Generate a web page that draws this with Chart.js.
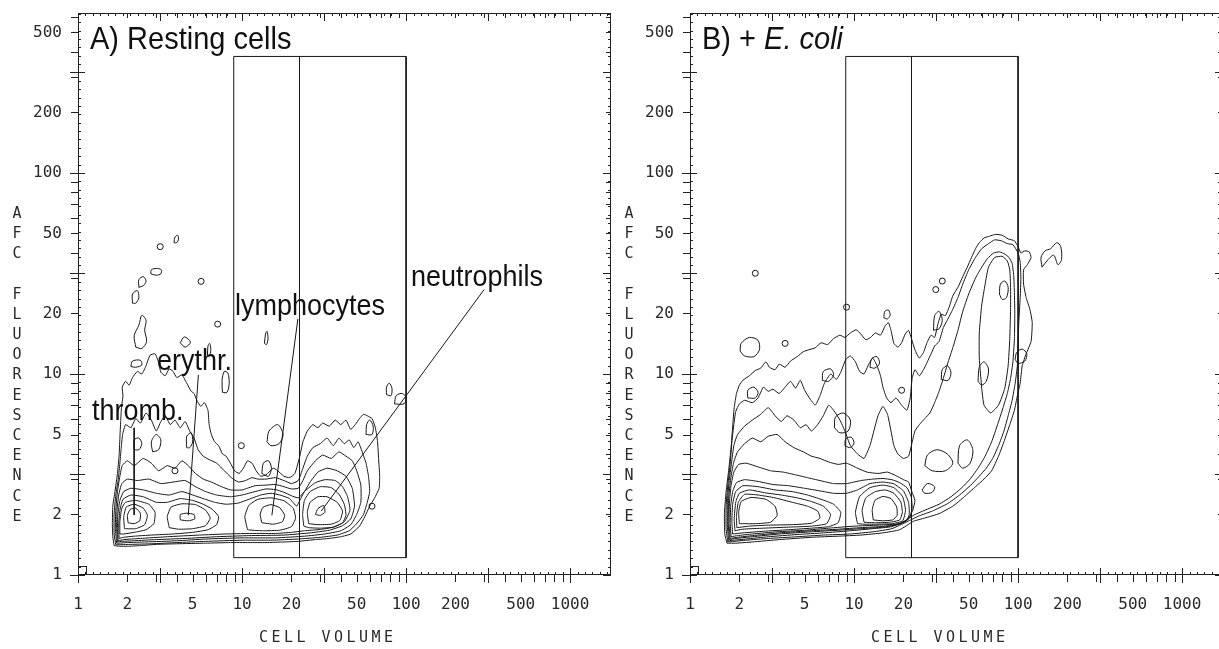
<!DOCTYPE html>
<html>
<head>
<meta charset="utf-8">
<script src="https://cdn.jsdelivr.net/npm/chart.js@4.4.1/dist/chart.umd.min.js"></script>
<style>
html, body { margin: 0; padding: 0; background: #fff; overflow: hidden; }
#wrap { position: relative; width: 1219px; height: 649px; overflow: hidden; background: #fff; }
canvas { position: absolute; top: 0; }
</style>
</head>
<body>
<div id="wrap">
  <canvas id="chartA" width="616" height="649" style="left:0"></canvas>
  <canvas id="chartB" width="616" height="649" style="left:612px"></canvas>
</div>
<script>
// axis ranges and tick labels (both panels share them)
var xMin = 1, xMax = 1775, yMin = 1, yMax = 625;
var xTickLabels = [1, 2, 5, 10, 20, 50, 100, 200, 500, 1000];
var yTickLabels = [1, 2, 5, 10, 20, 50, 100, 200, 500];

// gate: three cell volume borders, lower / upper fluorescence
var gateVolumes = [8.9, 22.4, 100];
var gateFluor = [1.22, 380];

// ---- panel A, resting cells: contour lines as [volume, fluorescence] ----
var aOuter = [[1.66,1.40],[1.63,1.55],[1.62,1.8],[1.63,2.2],[1.68,2.6],[1.74,3.2],[1.78,3.9],[1.80,4.8],[1.82,5.8],[1.84,6.8],[1.88,7.8],[1.86,8.6],[1.95,9.2],[2.05,8.8],[2.15,9.6],[2.3,10.3],[2.45,10.0],[2.6,11.0],[2.75,12.4],[2.95,12.6],[3.1,11.4],[3.2,10.2],[3.4,9.8],[3.6,10.6],[3.8,10.3],[4.0,9.6],[4.3,9.9],[4.6,9.0],[4.9,8.2],[5.1,8.0],[5.3,7.4],[5.6,6.9],[5.9,7.2],[6.2,6.6],[6.3,5.6],[6.5,5.0],[6.8,4.6],[7.2,4.4],[7.6,4.0],[8.0,3.9],[8.5,3.6],[9.0,3.3],[9.6,3.2],[10.2,3.4],[10.8,3.7],[11.5,3.6],[12.2,3.3],[13,3.1],[14,3.15],[15.5,3.4],[16.5,3.3],[18,3.1],[19.5,3.05],[21,3.2],[22.5,3.9],[23.5,4.6],[25,5.2],[27,5.6],[29,5.4],[31,5.7],[34,5.5],[37,5.9],[40,5.6],[43,5.9],[46,5.3],[49,5.6],[52,6.0],[55,6.3],[58,6.2],[62,6.0],[65,5.4],[67,4.6],[68,3.8],[69,3.1],[68.5,2.7],[64,2.4],[60,2.2],[56,1.95],[52,1.75],[46,1.6],[40,1.55],[34,1.52],[28,1.5],[22,1.47],[18,1.46],[14,1.45],[11,1.45],[8.5,1.45],[6,1.44],[4,1.43],[3,1.42],[2.4,1.40],[2.0,1.39],[1.8,1.39],[1.66,1.40]];
var aLevel1 = [[1.7,1.415],[1.66,1.6],[1.66,2.0],[1.70,2.5],[1.76,3.0],[1.80,3.6],[1.83,4.2],[1.87,5.0],[1.95,5.6],[2.1,5.4],[2.25,6.0],[2.4,5.7],[2.6,6.4],[2.8,5.9],[3.0,5.2],[3.2,5.8],[3.4,6.2],[3.65,5.6],[3.9,5.9],[4.2,5.4],[4.5,5.8],[4.8,5.2],[5.1,4.8],[5.4,4.2],[5.8,3.9],[6.3,3.75],[7.0,3.6],[7.8,3.3],[8.6,3.05],[9.5,2.9],[10.5,2.95],[11.5,3.05],[12.5,3.0],[14,3.0],[16,3.05],[18,2.95],[20,2.85],[22,2.95],[23.5,3.4],[25,3.9],[27,4.3],[30,4.5],[33,4.8],[36,4.4],[39,4.8],[42,4.5],[45,4.7],[48,4.3],[51,4.6],[54,4.1],[57,3.6],[59,3.1],[60,2.6],[58,2.3],[55,2.0],[50,1.8],[45,1.66],[38,1.58],[30,1.54],[22,1.51],[15,1.49],[10,1.49],[6,1.47],[4,1.45],[2.8,1.43],[2.1,1.42],[1.8,1.415],[1.7,1.415]];
var aLevel2 = [[1.72,1.44],[1.69,1.7],[1.70,2.1],[1.74,2.6],[1.8,3.1],[1.86,3.5],[2.0,3.7],[2.2,3.5],[2.5,3.8],[2.8,3.6],[3.1,3.3],[3.5,3.5],[3.9,3.4],[4.3,3.7],[4.7,3.5],[5.2,3.2],[5.8,3.0],[6.5,2.9],[7.5,2.75],[8.5,2.65],[10,2.65],[12,2.78],[14,2.8],[16,2.82],[18,2.75],[20,2.68],[22,2.7],[23.5,2.95],[25,3.3],[28,3.7],[31,3.95],[35,3.8],[39,4.1],[43,3.9],[47,3.7],[50,3.3],[53,2.8],[53,2.3],[50,2.0],[46,1.78],[40,1.66],[32,1.6],[24,1.56],[16,1.53],[10,1.53],[6,1.51],[4,1.48],[2.6,1.46],[2.0,1.45],[1.78,1.44],[1.72,1.44]];
var aLevel3 = [[1.74,1.46],[1.72,1.7],[1.73,2.1],[1.77,2.5],[1.85,2.85],[2.0,3.0],[2.3,2.95],[2.7,3.0],[3.2,2.85],[3.8,2.9],[4.5,2.95],[5.2,2.75],[6.0,2.6],[7.0,2.5],[8.5,2.45],[10,2.5],[12,2.6],[14,2.68],[16,2.66],[18,2.58],[20,2.48],[22,2.42],[24,2.6],[26,2.9],[29,3.25],[33,3.4],[38,3.3],[43,3.1],[47,2.7],[48.5,2.2],[46,1.9],[41,1.76],[34,1.67],[26,1.62],[18,1.58],[11,1.57],[7,1.55],[4.5,1.52],[3,1.5],[2.2,1.48],[1.85,1.47],[1.74,1.46]];
var aLevel4 = [[1.76,1.48],[1.74,1.7],[1.75,2.0],[1.8,2.35],[1.9,2.6],[2.1,2.7],[2.5,2.65],[3.0,2.55],[3.6,2.5],[4.3,2.6],[5.0,2.5],[5.8,2.4],[6.8,2.3],[8,2.25],[9.5,2.28],[11,2.38],[13,2.5],[15,2.55],[17,2.5],[19.5,2.4],[21.5,2.2],[22.5,2.35],[24,2.6],[26,2.75],[28,2.88],[32,2.98],[37,2.95],[41,2.75],[44,2.45],[45.5,2.1],[42,1.84],[36,1.73],[30,1.685],[24,1.66],[20,1.63],[16,1.61],[12,1.61],[8,1.6],[5.5,1.58],[3.5,1.55],[2.4,1.52],[1.9,1.5],[1.76,1.48]];
var aThrombErythr = [[1.78,1.52],[1.77,1.75],[1.8,2.1],[1.88,2.38],[2.1,2.5],[2.5,2.45],[3.0,2.3],[3.5,2.3],[4.2,2.4],[5.0,2.35],[5.8,2.25],[6.6,2.12],[7.2,1.95],[7.0,1.78],[6.2,1.68],[5.0,1.63],[3.8,1.6],[2.8,1.58],[2.2,1.56],[1.9,1.54],[1.78,1.52]];
var aThromb1 = [[1.8,1.6],[1.8,1.85],[1.85,2.15],[1.95,2.3],[2.25,2.35],[2.7,2.25],[2.95,2.05],[2.9,1.8],[2.6,1.68],[2.2,1.63],[1.9,1.6],[1.8,1.6]];
var aThromb2 = [[1.92,1.7],[1.9,1.95],[1.97,2.18],[2.2,2.25],[2.5,2.15],[2.65,1.98],[2.55,1.78],[2.25,1.7],[1.92,1.7]];
var aThromb3 = [[2.02,1.82],[2.0,1.98],[2.08,2.12],[2.25,2.15],[2.4,2.03],[2.38,1.86],[2.2,1.8],[2.02,1.82]];
var aErythr1 = [[3.6,1.72],[3.5,1.95],[3.7,2.18],[4.3,2.26],[5.2,2.24],[6.0,2.1],[6.4,1.92],[6.0,1.76],[5.0,1.7],[4.1,1.69],[3.6,1.72]];
var aErythr2 = [[4.2,1.88],[4.2,2.0],[4.6,2.03],[5.1,2.0],[5.15,1.9],[4.7,1.86],[4.2,1.88]];
var aLymph1 = [[10.8,1.68],[10.4,1.95],[11.0,2.22],[12.5,2.38],[15,2.42],[18,2.34],[20.5,2.15],[21.2,1.92],[20,1.74],[17,1.67],[13.5,1.66],[11.5,1.67],[10.8,1.68]];
var aLymph2 = [[13.2,1.82],[12.9,2.0],[13.4,2.17],[15,2.24],[17,2.16],[18.2,1.98],[17.6,1.84],[15.5,1.79],[13.2,1.82]];
var aNeutro1 = [[23.8,1.75],[23.4,2.0],[24,2.35],[26,2.6],[30,2.75],[35,2.72],[39,2.52],[42,2.25],[43,1.98],[41,1.82],[36,1.73],[30,1.71],[25.5,1.72],[23.8,1.75]];
var aNeutro2 = [[25.5,1.8],[25,2.05],[26,2.3],[29,2.45],[33,2.45],[38,2.3],[41,2.08],[39.5,1.87],[35,1.79],[29,1.78],[25.5,1.8]];
var aNeutro3 = [[28,2.0],[29,2.14],[31.5,2.22],[32,2.05],[30,1.98],[28,2.0]];
var aIslands = [
  [[2.25,13.6],[2.2,15.5],[2.35,17.5],[2.45,19.6],[2.6,18.5],[2.55,16.5],[2.62,14.5],[2.45,13.4],[2.25,13.6]],
  [[2.15,22.5],[2.15,25],[2.3,26],[2.35,24],[2.25,22.5],[2.15,22.5]],
  [[2.35,27],[2.35,29.5],[2.5,30.5],[2.6,29],[2.5,27.5],[2.35,27]],
  [[2.78,31.5],[2.8,33],[3.0,33.5],[3.22,33],[3.2,31.5],[3.0,31],[2.78,31.5]],
  [[3.85,45],[3.9,48],[4.05,49],[4.1,47],[4.0,45],[3.85,45]],
  [[4.2,14.3],[4.45,15.3],[4.85,14.4],[4.5,13.6],[4.2,14.3]],
  [[6.15,12.3],[6.2,13.8],[6.35,14.2],[6.45,13.2],[6.3,12.2],[6.15,12.3]],
  [[13.7,14.2],[13.9,15.8],[14.2,16.3],[14.4,15],[14.1,14],[13.7,14.2]],
  [[7.6,8.1],[7.55,9.3],[7.8,10.3],[8.2,10.1],[8.35,9.0],[8.1,8.1],[7.6,8.1]],
  [[76,7.9],[76,8.6],[79,9.0],[82,8.5],[81,7.8],[76,7.9]],
  [[85,7.1],[87,7.8],[95,8.0],[100,7.6],[97,7.1],[85,7.1]],
  [[14.2,4.6],[14.6,5.2],[16.5,5.6],[17.8,5.0],[16.8,4.5],[15,4.4],[14.2,4.6]],
  [[13.2,3.2],[13.5,3.6],[14.5,3.7],[15.1,3.4],[14.5,3.1],[13.2,3.2]],
  [[2.1,10.9],[2.15,11.6],[2.4,11.7],[2.45,11.1],[2.25,10.8],[2.1,10.9]],
  [[2.2,4.2],[2.2,4.7],[2.35,4.8],[2.45,4.5],[2.35,4.2],[2.2,4.2]],
  [[2.85,4.1],[2.8,4.6],[3.0,5.0],[3.2,4.7],[3.1,4.2],[2.85,4.1]],
  [[4.6,4.3],[4.6,4.9],[4.9,5.1],[5.0,4.6],[4.8,4.3],[4.6,4.3]],
  [[57,5.0],[57.5,5.6],[60,5.9],[63,5.5],[62,5.0],[57,5.0]]
];
var aDots = [[3.17,43],[5.63,28.9],[7.1,17.7],[9.9,4.4],[3.9,3.3],[62,2.2]];
// leader lines from the labels to the population peaks
var aLeaders = [
  [[2.2,5.4],[2.2,1.99]],
  [[5.42,9.9],[4.7,1.98]],
  [[21.9,18.8],[15.2,1.98]],
  [[299,26.3],[30.4,2.08]]
];

// ---- panel B, + E. coli ----
var bOuter = [[1.68,1.44],[1.63,1.6],[1.62,2.0],[1.66,2.6],[1.72,3.3],[1.78,4.3],[1.82,5.5],[1.86,6.8],[1.92,8.0],[2.0,8.8],[2.1,9.3],[2.3,9.8],[2.5,10.4],[2.7,10.7],[2.9,11.5],[3.05,10.8],[3.3,10.5],[3.5,11.2],[3.8,10.8],[4.1,11.6],[4.5,12.2],[4.9,12.9],[5.3,13.2],[5.8,13.5],[6.3,14.3],[6.9,14.0],[7.5,15.0],[8.2,15.6],[8.8,15.2],[9.5,16.0],[10.3,16.6],[11,15.8],[11.8,14.8],[12.6,15.2],[13.5,16.0],[14.5,15.6],[15.5,17.4],[16.2,18.0],[16.8,16.5],[17.5,14.2],[18.5,13.6],[19.5,14.3],[20.5,15.8],[21.5,16.5],[22.5,14.8],[23.5,13.2],[25,12.0],[26.5,12.8],[28,14.5],[29.5,15.6],[31,15.2],[32.5,17.8],[34,19.8],[36,19.5],[38,21.5],[40,24.5],[43,27],[46,30.5],[49,34],[52,38],[55,42],[58,45],[62,47.5],[67,48.5],[73,49.5],[80,49],[87,47],[95,46],[100,43],[104,40],[110,41],[117,40.5],[120,38],[114,35],[108,33],[108,28],[112,24],[118,21],[122,18],[120,14.5],[112,12.6],[106,11],[103,9],[99,7.8],[95,6.6],[89,5.6],[82,4.6],[76,3.9],[69,3.3],[62,3.0],[55,2.75],[47,2.45],[40,2.2],[33,2.02],[27,1.92],[23,1.85],[19,1.68],[15,1.62],[11,1.58],[8,1.56],[5.5,1.54],[3.5,1.5],[2.4,1.46],[1.9,1.44],[1.68,1.44]];
var bLevel1 = [[1.7,1.46],[1.66,1.7],[1.66,2.2],[1.7,2.8],[1.76,3.6],[1.8,4.6],[1.85,5.6],[1.9,6.5],[2.0,7.1],[2.15,7.4],[2.4,7.2],[2.6,7.6],[2.8,8.6],[3.0,8.2],[3.2,8.4],[3.5,8.0],[3.8,8.6],[4.1,9.2],[4.4,8.5],[4.7,9.3],[5.0,8.3],[5.4,7.5],[5.8,7.0],[6.2,7.8],[6.6,9.0],[7.2,10.0],[7.8,9.4],[8.3,10.2],[8.9,11.8],[9.5,12.3],[10.2,11.5],[10.8,10.3],[11.5,10.0],[12.3,11.2],[13,12.0],[13.8,11.0],[14.5,9.8],[15,8.6],[15.8,7.6],[16.8,7.2],[18,7.6],[19.5,7.0],[21,6.6],[22,7.6],[22.6,9.5],[23.5,10.5],[25,9.8],[26.5,10.5],[28,11.5],[29.5,12.6],[31,13.8],[33,14.5],[35,17],[37,18.5],[40,21],[43,24],[46,28],[50,33],[55,38],[60,42],[66,44.5],[72,46.5],[79,46],[86,44.5],[93,44],[100,40],[103,36],[104,30],[103,24],[101,18],[100,14],[99,11],[96,9],[92,7.4],[87,6.2],[82,5.2],[76,4.4],[70,3.8],[64,3.4],[58,3.1],[51,2.78],[44,2.5],[37,2.26],[30,2.08],[25,1.97],[21,1.84],[17,1.7],[13,1.64],[9.5,1.6],[6.5,1.58],[4.5,1.55],[3,1.52],[2.2,1.49],[1.85,1.47],[1.7,1.46]];
var bLevel2 = [[1.72,1.48],[1.69,1.75],[1.69,2.3],[1.73,2.9],[1.79,3.6],[1.85,4.4],[1.95,5.0],[2.15,5.5],[2.4,5.9],[2.7,6.3],[3.0,6.8],[3.3,6.2],[3.6,5.8],[3.9,6.2],[4.3,5.9],[4.7,5.4],[5.1,5.6],[5.5,5.2],[6.0,5.6],[6.5,6.2],[7.0,7.0],[7.5,6.6],[8.2,5.9],[8.8,5.2],[9.5,4.4],[10.5,4.0],[11.5,3.8],[12.5,4.4],[13.2,5.2],[14,6.2],[15,6.9],[16,6.3],[16.8,5.2],[17.5,4.4],[18.5,4.0],[20,3.8],[21.5,3.9],[22.5,4.5],[23.5,5.2],[25,5.6],[27,6.0],[29,6.4],[31,7.2],[33,8.2],[35,9.5],[37.5,11.5],[40,13.5],[43,16.5],[46,20.5],[50,25],[55,30],[60,34],[65,37.5],[71,40],[77,40.5],[83,39.5],[88,38],[92,35.5],[94,31],[95,25],[95.5,20],[95,15],[93,11.5],[90,9.5],[86,8.0],[81,6.8],[75,5.6],[69,4.6],[63,3.9],[57,3.4],[51,3.0],[45,2.7],[39,2.45],[33,2.25],[27,2.1],[23,1.98],[20.5,1.86],[17,1.74],[13,1.7],[9.5,1.66],[6.5,1.62],[4.5,1.59],[3,1.55],[2.2,1.51],[1.85,1.49],[1.72,1.48]];
var bLevel3 = [[1.74,1.5],[1.71,1.8],[1.72,2.4],[1.77,3.0],[1.84,3.6],[1.95,4.1],[2.15,4.5],[2.4,4.8],[2.7,4.6],[3.0,4.9],[3.4,5.0],[3.8,4.6],[4.3,4.3],[4.9,4.1],[5.5,3.9],[6.2,3.8],[7,3.65],[8,3.55],[9,3.6],[10.5,3.4],[12,3.25],[14,3.2],[16,3.25],[18,3.12],[20,2.98],[21.5,2.9],[22.5,2.6],[23.5,2.35],[22.8,2.1],[21.5,1.92],[19,1.79],[15,1.73],[11,1.7],[8,1.67],[5.5,1.64],[3.5,1.6],[2.4,1.55],[1.9,1.52],[1.74,1.5]];
var bLevel4 = [[1.76,1.52],[1.73,1.8],[1.74,2.3],[1.78,2.8],[1.85,3.25],[1.98,3.55],[2.2,3.6],[2.6,3.45],[3.1,3.3],[3.7,3.25],[4.4,3.15],[5.2,3.05],[6.2,2.95],[7.5,2.85],[9,2.85],[11,2.95],[13,3.0],[15,3.02],[17,2.98],[19,2.88],[21,2.72],[22.3,2.45],[22.6,2.15],[21.8,1.92],[19.5,1.81],[15,1.745],[11,1.72],[8,1.69],[5.5,1.66],[3.5,1.62],[2.4,1.57],[1.95,1.54],[1.76,1.52]];
var bLevel5 = [[1.78,1.55],[1.76,1.8],[1.77,2.2],[1.82,2.6],[1.92,2.88],[2.15,2.98],[2.6,2.92],[3.2,2.82],[4,2.78],[5,2.7],[6.2,2.62],[7.5,2.55],[9,2.55],[10.5,2.65],[12.5,2.85],[15,2.9],[17.5,2.84],[20,2.62],[21.5,2.3],[21.7,2.0],[20.8,1.85],[18,1.79],[14,1.77],[10,1.75],[7,1.71],[5,1.67],[3.4,1.64],[2.4,1.6],[1.95,1.57],[1.78,1.55]];
var bLeft6 = [[1.82,1.6],[1.8,1.85],[1.82,2.25],[1.9,2.6],[2.1,2.78],[2.6,2.75],[3.3,2.65],[4.2,2.6],[5.2,2.5],[6.3,2.38],[7.5,2.25],[8.3,2.05],[8.0,1.82],[7,1.74],[5.5,1.71],[4,1.68],[2.8,1.65],[2.1,1.62],[1.82,1.6]];
var bLeft7 = [[1.88,1.66],[1.86,1.9],[1.9,2.3],[2.0,2.55],[2.3,2.65],[2.9,2.56],[3.6,2.5],[4.5,2.42],[5.5,2.32],[6.5,2.2],[7.2,2.0],[6.8,1.8],[5.5,1.75],[4,1.73],[2.8,1.71],[2.1,1.69],[1.88,1.66]];
var bLeft8 = [[1.93,1.72],[1.92,1.95],[1.97,2.3],[2.15,2.52],[2.6,2.5],[3.3,2.42],[4.2,2.3],[5.2,2.2],[6.0,2.08],[6.2,1.92],[5.5,1.81],[4.2,1.78],[3,1.77],[2.3,1.75],[1.93,1.72]];
var bLeft9 = [[2.0,1.8],[1.98,2.05],[2.05,2.32],[2.35,2.43],[2.9,2.38],[3.3,2.2],[3.4,1.98],[3.1,1.83],[2.5,1.8],[2.0,1.8]];
var bLymph6 = [[10.5,1.8],[10.2,2.05],[10.8,2.45],[12.5,2.72],[15,2.8],[17.5,2.72],[19.8,2.45],[20.6,2.1],[19.8,1.86],[17,1.8],[13.5,1.79],[11.5,1.79],[10.5,1.8]];
var bLymph7 = [[11.5,1.83],[11.2,2.1],[11.8,2.42],[13.5,2.6],[15.5,2.65],[17.5,2.55],[19.3,2.3],[19.7,2.05],[19,1.88],[16.5,1.83],[13.5,1.82],[11.5,1.83]];
var bLymph8 = [[13.1,1.88],[12.9,2.1],[13.4,2.35],[15,2.46],[16.8,2.4],[18.2,2.18],[18.3,1.98],[17.2,1.88],[15,1.86],[13.1,1.88]];
var bTower = [[60,8.5],[58,12],[58,16],[60,22],[63,28],[66,34],[72,38],[80,38.5],[86,36.5],[89,33],[90,27],[90,21],[89,15],[87,11],[83,8.5],[76,7],[68,6.4],[62,7],[60,8.5]];
var bIslands = [
  [[2.02,13.0],[2.05,14.2],[2.3,15.2],[2.6,14.7],[2.65,13.2],[2.45,12.2],[2.15,12.3],[2.02,13.0]],
  [[2.25,7.6],[2.25,8.3],[2.45,8.6],[2.6,8.1],[2.5,7.6],[2.25,7.6]],
  [[15.2,19],[15.4,20.5],[16.2,20.8],[16.6,19.6],[16,18.8],[15.2,19]],
  [[140,34],[138,38],[146,41],[158,42],[172,45],[182,43],[184,37],[175,35],[165,39],[152,37],[140,34]],
  [[96,11.8],[98,12.8],[106,13.3],[113,12.6],[110,11.6],[100,11.3],[96,11.8]],
  [[7.6,5.4],[7.7,6.1],[8.6,6.4],[9.5,5.9],[9.2,5.2],[8.2,5.1],[7.6,5.4]],
  [[8.8,4.4],[8.9,4.75],[9.6,4.85],[10,4.55],[9.5,4.3],[8.8,4.4]],
  [[27,3.5],[28,3.95],[32,4.2],[37,4.0],[40,3.6],[36,3.3],[30,3.3],[27,3.5]],
  [[26,2.65],[28,2.85],[31,2.75],[30,2.58],[27,2.55],[26,2.65]],
  [[77,25],[78,28],[83,29],[87,27],[85,24],[80,23.5],[77,25]],
  [[57,9.2],[58,10.8],[62,11.5],[66,10.6],[64,9.2],[60,8.8],[57,9.2]],
  [[12.5,10.8],[12.8,11.9],[13.8,12.2],[14.3,11.3],[13.4,10.7],[12.5,10.8]],
  [[6.4,9.3],[6.5,10.3],[7.2,10.6],[7.5,9.9],[7,9.2],[6.4,9.3]],
  [[30.5,16.5],[31,19.5],[33,20.5],[34.5,18.5],[33,16.8],[30.5,16.5]],
  [[34,9.4],[34.5,10.5],[37,11],[39,10.2],[37.5,9.3],[34,9.4]],
  [[43,3.6],[44,4.4],[49,4.7],[53,4.2],[51,3.6],[46,3.4],[43,3.6]]
];
var bDots = [[2.5,31.7],[3.8,14.2],[9.0,21.5],[31.5,26.3],[34.5,29],[19.5,8.3]];

var ink = '#161616';
var tickFont = 'DejaVu Sans Mono, monospace';
var textFont = '"Liberation Sans", Arial, sans-serif';

function toXY(pts) {
  return pts.map(function(p) { return {x: p[0], y: p[1]}; });
}

function lineSet(pts, tension) {
  return {
    data: toXY(pts),
    showLine: true,
    pointRadius: 0,
    borderColor: ink,
    borderWidth: 1,
    tension: tension,
    fill: false
  };
}

function dotSet(pts) {
  return {
    data: toXY(pts),
    showLine: false,
    pointRadius: 3,
    pointStyle: 'circle',
    borderColor: ink,
    borderWidth: 1,
    backgroundColor: 'rgba(0,0,0,0)'
  };
}

function gateSets() {
  var v = gateVolumes, f = gateFluor;
  return [
    lineSet([[v[0],f[0]],[v[0],f[1]],[v[2],f[1]],[v[2],f[0]],[v[0],f[0]]], 0),
    lineSet([[v[1],f[0]],[v[1],f[1]]], 0)
  ];
}

// frame with the plotter-style ticks on all four sides
var frameTicks = {
  id: 'frameTicks',
  afterDraw: function(chart) {
    var ctx = chart.ctx, a = chart.chartArea;
    var xs = chart.scales.x, ys = chart.scales.y;
    ctx.save();
    ctx.strokeStyle = '#222';
    ctx.lineWidth = 1;
    ctx.strokeRect(a.left + 0.5, a.top + 0.5, a.right - a.left - 1, a.bottom - a.top - 1);
    ctx.strokeRect(a.left + 0.5, a.bottom - 8.5, 8, 8);
    ctx.beginPath();
    function seg(x1, y1, x2, y2) { ctx.moveTo(x1, y1); ctx.lineTo(x2, y2); }
    var k, v, p;
    for (k = 1; ; k++) {
      v = Math.pow(10, k / 22);
      if (v >= xs.max) break;
      p = Math.round(xs.getPixelForValue(v)) + 0.5;
      seg(p, a.bottom, p, a.bottom - 3);
      seg(p, a.top, p, a.top + 3);
    }
    for (k = 1; ; k++) {
      v = Math.pow(10, k / 24);
      if (v >= ys.max) break;
      p = Math.round(ys.getPixelForValue(v)) + 0.5;
      seg(a.left, p, a.left + 3, p);
      seg(a.right, p, a.right - 3, p);
    }
    [1, 10, 100, 1000].forEach(function(d) {
      for (var m = 1; m <= 9; m++) {
        var val = m * d, q;
        if (val < xs.max) {
          q = Math.round(xs.getPixelForValue(val)) + 0.5;
          if (m === 1) { seg(q, a.bottom - 7, q, a.bottom + 8); seg(q, a.top, q, a.top + 8); }
          else { seg(q, a.bottom, q, a.bottom + 7); seg(q, a.top, q, a.top + 5); }
        }
        if (val < ys.max) {
          q = Math.round(ys.getPixelForValue(val)) + 0.5;
          if (m === 1) { seg(a.left - 8, q, a.left + 7, q); seg(a.right, q, a.right - 8, q); }
          else { seg(a.left - 7, q, a.left, q); seg(a.right, q, a.right - 5, q); }
        }
      }
      var h = d * Math.sqrt(10), r;
      if (h < xs.max) {
        r = Math.round(xs.getPixelForValue(h)) + 0.5;
        seg(r, a.bottom - 7, r, a.bottom + 8); seg(r, a.top, r, a.top + 8);
      }
      if (h < ys.max) {
        r = Math.round(ys.getPixelForValue(h)) + 0.5;
        seg(a.left - 8, r, a.left + 7, r); seg(a.right, r, a.right - 8, r);
      }
    });
    ctx.stroke();

    // axis titles in the plotter lettering
    ctx.fillStyle = '#2a2a2a';
    ctx.font = '15px ' + tickFont;
    ctx.textAlign = 'center';
    ctx.textBaseline = 'middle';
    var yTitle = 'AFC FLUORESCENCE';
    for (k = 0; k < yTitle.length; k++) {
      ctx.fillText(yTitle[k], a.left - 61, 214 + k * 20.2);
    }
    var xTitle = 'CELL VOLUME';
    for (k = 0; k < xTitle.length; k++) {
      ctx.fillText(xTitle[k], a.left + 248 - 62.5 + k * 12.5, 638);
    }
    ctx.restore();
  }
};

function stretchText(ctx, str, x, y, font, sy) {
  ctx.save();
  ctx.translate(x, y);
  ctx.scale(1, sy);
  ctx.font = font;
  ctx.fillText(str, 0, 0);
  ctx.restore();
}

var labelsA = {
  id: 'labelsA',
  afterDraw: function(chart) {
    var ctx = chart.ctx, a = chart.chartArea;
    ctx.save();
    ctx.fillStyle = '#111';
    ctx.textAlign = 'left';
    ctx.textBaseline = 'alphabetic';
    stretchText(ctx, 'A) Resting cells', a.left + 12, 49, '29px ' + textFont, 1.08);
    var f = '27px ' + textFont;
    stretchText(ctx, 'thromb.', 92, 420, f, 1.08);
    stretchText(ctx, 'erythr.', 157, 370, f, 1.08);
    stretchText(ctx, 'lymphocytes', 235, 315, f, 1.08);
    stretchText(ctx, 'neutrophils', 411, 286, f, 1.08);
    ctx.restore();
  }
};

var labelsB = {
  id: 'labelsB',
  afterDraw: function(chart) {
    var ctx = chart.ctx, a = chart.chartArea;
    ctx.save();
    ctx.fillStyle = '#111';
    ctx.textAlign = 'left';
    ctx.textBaseline = 'alphabetic';
    ctx.font = '29px ' + textFont;
    var lead = 'B) + ';
    var w = ctx.measureText(lead).width;
    stretchText(ctx, lead, a.left + 12, 49, '29px ' + textFont, 1.08);
    stretchText(ctx, 'E. coli', a.left + 12 + w, 49, 'italic 29px ' + textFont, 1.08);
    ctx.restore();
  }
};

function makeChart(id, sets, labelPlugin) {
  return new Chart(document.getElementById(id), {
    type: 'scatter',
    data: { datasets: sets },
    options: {
      responsive: false,
      animation: false,
      devicePixelRatio: 1,
      events: [],
      layout: { padding: { top: 13, right: 0, bottom: 0, left: 0 } },
      plugins: { legend: { display: false }, tooltip: { enabled: false } },
      scales: {
        x: {
          type: 'logarithmic',
          position: 'bottom',
          min: xMin,
          max: xMax,
          grid: { display: false, drawTicks: false },
          border: { display: false },
          afterBuildTicks: function(s) { s.ticks = xTickLabels.map(function(v) { return {value: v}; }); },
          afterFit: function(s) { s.height = 74; s.paddingLeft = 0; s.paddingRight = 0; },
          ticks: {
            autoSkip: false, maxRotation: 0, minRotation: 0, padding: 20,
            color: '#2a2a2a', font: { family: tickFont, size: 16 },
            callback: function(v) { return String(v); }
          }
        },
        y: {
          type: 'logarithmic',
          position: 'left',
          min: yMin,
          max: yMax,
          grid: { display: false, drawTicks: false },
          border: { display: false },
          afterBuildTicks: function(s) { s.ticks = yTickLabels.map(function(v) { return {value: v}; }); },
          afterFit: function(s) { s.width = 78; s.paddingTop = 0; s.paddingBottom = 0; },
          ticks: {
            autoSkip: false, padding: 16,
            color: '#2a2a2a', font: { family: tickFont, size: 16 },
            callback: function(v) { return String(v); }
          }
        }
      }
    },
    plugins: [frameTicks, labelPlugin]
  });
}

var setsA = gateSets();
[aOuter, aLevel1, aLevel2, aLevel3, aLevel4, aThrombErythr, aThromb1, aThromb2, aThromb3,
 aErythr1, aErythr2, aLymph1, aLymph2, aNeutro1, aNeutro2, aNeutro3].forEach(function(c) {
  setsA.push(lineSet(c, 0.15));
});
aIslands.forEach(function(c) { setsA.push(lineSet(c, 0.3)); });
aLeaders.forEach(function(c) { setsA.push(lineSet(c, 0)); });
setsA.push(dotSet(aDots));

var setsB = gateSets();
[bOuter, bLevel1, bLevel2, bLevel3, bLevel4, bLevel5, bLeft6, bLeft7, bLeft8, bLeft9,
 bLymph6, bLymph7, bLymph8, bTower].forEach(function(c) {
  setsB.push(lineSet(c, 0.15));
});
bIslands.forEach(function(c) { setsB.push(lineSet(c, 0.3)); });
setsB.push(dotSet(bDots));

makeChart('chartA', setsA, labelsA);
makeChart('chartB', setsB, labelsB);
</script>
</body>
</html>
